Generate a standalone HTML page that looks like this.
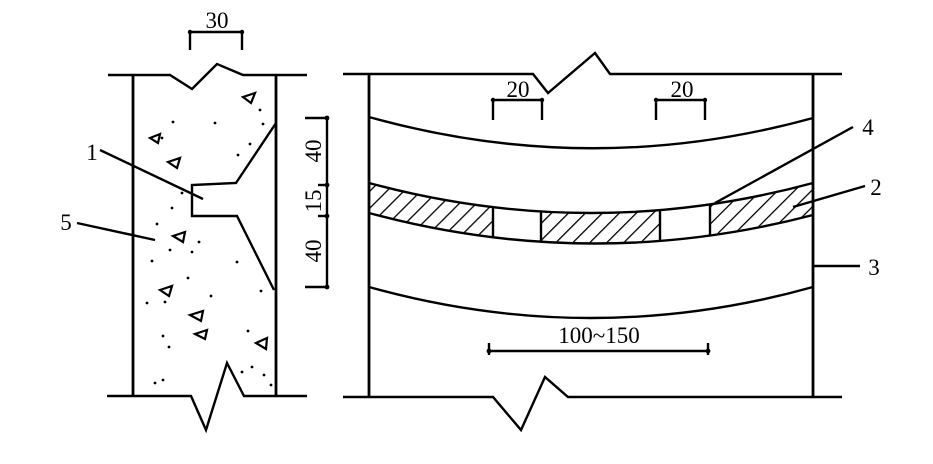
<!DOCTYPE html>
<html><head><meta charset="utf-8"><style>
html,body{margin:0;padding:0;background:#fff;}
svg{display:block;}
text{font-family:"Liberation Serif",serif;fill:#000;}
</style></head><body>
<svg width="933" height="464" viewBox="0 0 933 464" xmlns="http://www.w3.org/2000/svg">
<defs>
<pattern id="h" patternUnits="userSpaceOnUse" width="12" height="12" patternTransform="rotate(45)">
<line x1="0" y1="0" x2="0" y2="12" stroke="#000" stroke-width="2.6"/>
</pattern>
<clipPath id="band"><path d="M369,183 Q591,243 813,183 L813,215 Q591,273 369,213 Z"/></clipPath>
</defs>
<g stroke="#000" stroke-width="2.4" fill="none" stroke-linejoin="miter">
<polyline points="108,75 170,75 192,89 217,64 243,75 307,75"/>
<polyline points="107,396 191,396 206,430 227,363 244,396 307,396"/>
<line x1="133" y1="75" x2="133" y2="396" stroke-width="2.8"/>
<line x1="276" y1="75" x2="276" y2="396" stroke-width="2.8"/>
<polyline points="276,123 236,183 192,185 192,216 237,216 274,290"/>
<line x1="190" y1="32" x2="242" y2="32"/>
<line x1="190" y1="32" x2="190" y2="50"/>
<line x1="242" y1="32" x2="242" y2="50"/>
<line x1="327" y1="118" x2="327" y2="287"/>
<line x1="305" y1="118" x2="327" y2="118"/>
<line x1="305" y1="287" x2="327" y2="287"/>
<line x1="318" y1="185" x2="327" y2="185"/>
<line x1="318" y1="216" x2="327" y2="216"/>
<line x1="100" y1="150" x2="203" y2="199"/>
<line x1="77" y1="223" x2="155" y2="240"/>
<path d="M243,97 l12,-4 l-4,10 z M150,138 l10,-4 l-2,9 z M168,162 l12,-4 l-3,10 z M173,236 l12,-4 l-2,10 z M160,290 l12,-4 l-3,10 z M190,315 l13,-4 l-2,10 z M195,334 l12,-4 l-2,9 z M256,343 l11,-5 l-1,11 z" stroke-width="2.2"/>
<polyline points="343,74 533,74 548,93 595,53 610,74 842,74"/>
<polyline points="343,397 493,397 521,430 545,377 568,397 842,397"/>
<line x1="369" y1="74" x2="369" y2="397" stroke-width="2.8"/>
<line x1="813" y1="74" x2="813" y2="397" stroke-width="2.8"/>
<path d="M369,117 Q591,179 813,118"/>
<path d="M369,287 Q591,349 813,287"/>
</g>
<g fill="#000">
<circle cx="173" cy="122" r="1.4"/><circle cx="215" cy="123" r="1.4"/><circle cx="260" cy="110" r="1.4"/><circle cx="263" cy="124" r="1.4"/><circle cx="250" cy="144" r="1.4"/><circle cx="238" cy="155" r="1.4"/><circle cx="162" cy="138" r="1.4"/><circle cx="182" cy="193" r="1.4"/><circle cx="172" cy="208" r="1.4"/><circle cx="157" cy="224" r="1.4"/><circle cx="199" cy="242" r="1.4"/><circle cx="170" cy="250" r="1.4"/><circle cx="192" cy="252" r="1.4"/><circle cx="152" cy="261" r="1.4"/><circle cx="237" cy="262" r="1.4"/><circle cx="188" cy="278" r="1.4"/><circle cx="261" cy="291" r="1.4"/><circle cx="147" cy="303" r="1.4"/><circle cx="165" cy="302" r="1.4"/><circle cx="211" cy="296" r="1.4"/><circle cx="163" cy="336" r="1.4"/><circle cx="169" cy="347" r="1.4"/><circle cx="248" cy="331" r="1.4"/><circle cx="155" cy="383" r="1.4"/><circle cx="163" cy="380" r="1.4"/><circle cx="242" cy="372" r="1.4"/><circle cx="252" cy="367" r="1.4"/><circle cx="264" cy="375" r="1.4"/><circle cx="271" cy="385" r="1.4"/>
<circle cx="190" cy="32" r="2.2"/><circle cx="242" cy="32" r="2.2"/>
<circle cx="327" cy="118" r="2.4"/><circle cx="327" cy="185" r="2.4"/><circle cx="327" cy="216" r="2.4"/><circle cx="327" cy="287" r="2.4"/>
<circle cx="493" cy="100" r="2.2"/><circle cx="542" cy="100" r="2.2"/><circle cx="656" cy="100" r="2.2"/><circle cx="705" cy="100" r="2.2"/>
<circle cx="489" cy="351" r="2.4"/><circle cx="708" cy="351" r="2.4"/>
</g>
<g clip-path="url(#band)">
<rect x="369" y="170" width="444" height="110" fill="url(#h)"/>
<rect x="493" y="170" width="48" height="110" fill="#fff"/>
<rect x="660" y="170" width="50" height="110" fill="#fff"/>
<g stroke="#000" stroke-width="2.4">
<line x1="493" y1="170" x2="493" y2="280"/><line x1="541" y1="170" x2="541" y2="280"/>
<line x1="660" y1="170" x2="660" y2="280"/><line x1="710" y1="170" x2="710" y2="280"/>
</g>
</g>
<g stroke="#000" stroke-width="2.4" fill="none">
<path d="M369,183 Q591,243 813,183"/>
<path d="M369,213 Q591,273 813,215"/>
<polyline points="493,120 493,100 542,100 542,120"/>
<polyline points="656,120 656,100 705,100 705,120"/>
<line x1="489" y1="351" x2="708" y2="351"/>
<line x1="489" y1="343" x2="489" y2="355"/>
<line x1="708" y1="343" x2="708" y2="355"/>
<line x1="715" y1="203" x2="853" y2="127"/>
<line x1="793" y1="207" x2="865" y2="186"/>
<line x1="813" y1="266" x2="860" y2="266"/>
</g>
<text x="217" y="28" font-size="23" text-anchor="middle">30</text>
<text x="92" y="160" font-size="23" text-anchor="middle">1</text>
<text x="66" y="230" font-size="23" text-anchor="middle">5</text>
<text transform="translate(321,151) rotate(-90)" font-size="23" text-anchor="middle">40</text>
<text transform="translate(321,201) rotate(-90)" font-size="23" text-anchor="middle">15</text>
<text transform="translate(321,251) rotate(-90)" font-size="23" text-anchor="middle">40</text>
<text x="518" y="97" font-size="23" text-anchor="middle">20</text>
<text x="682" y="97" font-size="23" text-anchor="middle">20</text>
<text x="599" y="343" font-size="23" text-anchor="middle">100~150</text>
<text x="868" y="135" font-size="23" text-anchor="middle">4</text>
<text x="876" y="195" font-size="23" text-anchor="middle">2</text>
<text x="874" y="275" font-size="23" text-anchor="middle">3</text>
</svg>
</body></html>
